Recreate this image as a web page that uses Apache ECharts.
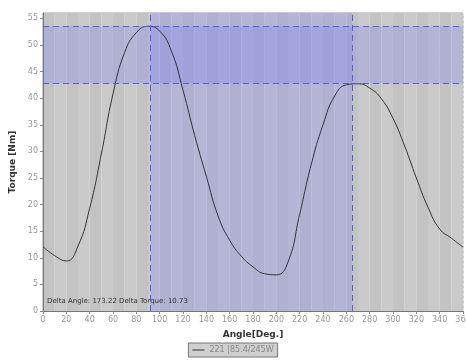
<!DOCTYPE html>
<html>
<head>
<meta charset="utf-8">
<script src="https://cdn.jsdelivr.net/npm/echarts@6/dist/echarts.min.js"></script>
<style>
  html, body { margin: 0; padding: 0; background: #fff; }
  #main { width: 466px; height: 360px; }
</style>
</head>
<body>
<div id="main"></div>
<script>
// angle (deg) and torque (Nm)
var angles = [0, 10, 20, 30, 40, 50, 60, 70, 80, 90, 100, 110, 120, 130, 140, 150, 160, 170, 180,
  190, 200, 210, 220, 230, 240, 250, 260, 270, 280, 290, 300, 310, 320, 330, 340, 350, 360];
var torque = [12.1, 10.4, 9.4, 12.2, 19.3, 29.5, 40.8, 48.6, 52.3, 53.5, 52.6, 48.9, 41.5, 33.0, 25.3, 17.9, 13.3, 10.3, 8.3,
  7.0, 6.8, 9.2, 18.2, 27.6, 35.0, 40.4, 42.5, 42.7, 41.9, 39.9, 36.2, 31.0, 25.0, 19.5, 15.4, 13.7, 12.0];

// cursor positions
var cursorAngles = [91.7, 264.92];
var cursorTorques = [53.5, 42.77];

var seriesName = '221 |85.4/245W';
var infoText = 'Delta Angle: 173.22 Delta Torque: 10.73';

var lineData = angles.map(function (a, i) { return [a, torque[i]]; });

var cursorStyle = { color: '#5a5aee', type: [6, 4], width: 1 };

var chart = echarts.init(document.getElementById('main'));

var option = {
  animation: false,
  textStyle: { fontFamily: 'DejaVu Sans' },
  title: {
    text: infoText,
    left: 47,
    top: 298,
    padding: 0,
    textStyle: { fontSize: 7, fontWeight: 'normal', color: '#333' }
  },
  grid: {
    left: 43,
    right: 3,
    top: 13,
    bottom: 49,
    outerBoundsMode: 'none',
    containLabel: false,
    show: true,
    borderColor: '#999',
    borderWidth: 1
  },
  legend: {
    data: [seriesName],
    left: 'center',
    bottom: 3,
    backgroundColor: '#cfcfcf',
    borderColor: '#777',
    borderWidth: 1,
    borderRadius: 0,
    padding: [3, 4],
    icon: 'rect',
    itemWidth: 12,
    itemHeight: 1,
    itemGap: 4,
    textStyle: { color: '#888', fontSize: 8 }
  },
  xAxis: [
    {
      type: 'value',
      min: 0,
      max: 360,
      interval: 20,
      name: 'Angle[Deg.]',
      nameLocation: 'middle',
      nameGap: 19,
      nameTextStyle: { color: '#333', fontSize: 9, fontWeight: 'bold' },
      axisLine: { lineStyle: { color: '#777' } },
      axisTick: { show: true, length: 3, lineStyle: { color: '#888' } },
      axisLabel: { color: '#999', fontSize: 8, margin: 5, hideOverlap: false },
      splitLine: { show: true, lineStyle: { color: 'rgba(255,255,255,0.45)', type: [3, 2] } }
    },
    {
      // only for the vertical stripes every 10 deg
      type: 'value',
      position: 'top',
      min: 0,
      max: 360,
      interval: 10,
      axisLine: { show: false },
      axisTick: { show: false },
      axisLabel: { show: false },
      splitLine: { show: false },
      splitArea: { show: true, areaStyle: { color: ['#c3c3c3', '#cacaca'] } }
    }
  ],
  yAxis: {
    type: 'value',
    min: 0,
    max: 56,
    interval: 5,
    name: 'Torque [Nm]',
    nameLocation: 'middle',
    nameRotate: 90,
    nameGap: 22,
    nameTextStyle: { color: '#333', fontSize: 9, fontWeight: 'bold' },
    axisLine: { show: true, lineStyle: { color: '#777' } },
    axisTick: { show: true, length: 3, lineStyle: { color: '#888' } },
    axisLabel: { color: '#999', fontSize: 8, margin: 5, showMaxLabel: false },
    splitLine: { show: true, lineStyle: { color: 'rgba(255,255,255,0.45)', type: [3, 2] } }
  },
  series: [
    {
      name: seriesName,
      type: 'line',
      xAxisIndex: 0,
      data: lineData,
      smooth: 0.5,
      showSymbol: false,
      z: 3,
      lineStyle: { color: '#333', width: 1 },
      itemStyle: { color: '#333' },
      markArea: {
        silent: true,
        itemStyle: { color: 'rgba(110,110,255,0.22)' },
        data: [
          [{ yAxis: cursorTorques[1] }, { yAxis: cursorTorques[0] }],
          [{ xAxis: cursorAngles[0] }, { xAxis: cursorAngles[1] }]
        ]
      },
      markLine: {
        silent: true,
        symbol: 'none',
        label: { show: false },
        lineStyle: cursorStyle,
        data: [
          { xAxis: cursorAngles[0], lineStyle: cursorStyle },
          { xAxis: cursorAngles[1], lineStyle: cursorStyle },
          { yAxis: cursorTorques[0], lineStyle: cursorStyle },
          { yAxis: cursorTorques[1], lineStyle: cursorStyle }
        ]
      }
    }
  ]
};

chart.setOption(option);
</script>
</body>
</html>
